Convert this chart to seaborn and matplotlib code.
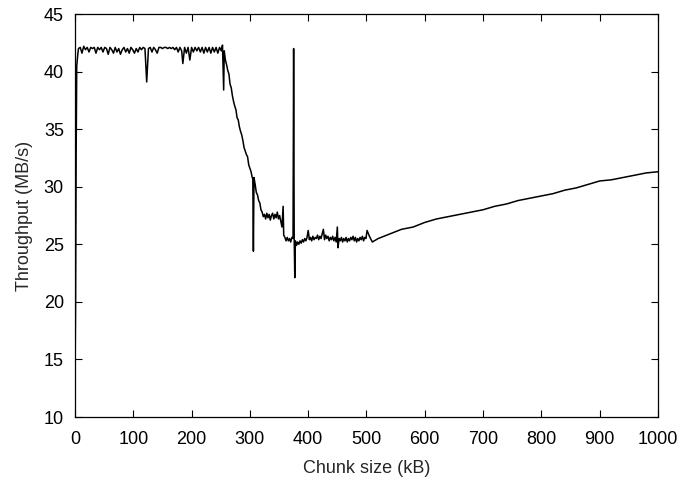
import matplotlib
matplotlib.use("Agg")
import matplotlib.pyplot as plt
import seaborn as sns
import pandas as pd

chunk_kb = [0, 1, 2, 3, 5,
    6, 9, 12, 15, 18, 21, 24, 27, 30, 33, 36, 39, 42, 45, 48, 51, 54, 57, 60, 63, 66, 69, 72, 75, 78, 81, 84, 87,
    90, 93, 96, 99, 102, 105, 108, 111, 114, 117, 120, 123, 126, 129, 132, 135, 138, 141, 144, 147, 150, 153,
    156, 159, 162, 165, 168, 171, 174, 177, 180, 183, 185, 188, 191, 194, 197, 200, 203, 206, 209, 212, 215,
    218, 221, 224, 227, 230, 233, 236, 239, 242, 245, 248, 251,
    253, 255, 256, 258, 260, 262, 264, 266, 268, 270, 272, 274, 276, 278, 280, 282, 284, 286, 288, 290, 292,
    294, 296, 298, 300, 302, 304, 305, 306, 307, 309, 311, 313, 315, 317, 319, 321, 323, 325, 327, 329, 331,
    333, 335, 337, 339, 341, 343, 345, 347, 349, 351, 353, 355, 357, 358, 360, 362, 364, 366, 368, 370, 372,
    374, 375, 376, 377, 378, 380, 382, 384, 386, 388, 390, 392, 394, 396, 398, 400, 402, 404, 406, 408, 410,
    412, 414, 416, 418, 420, 422, 424, 426, 428, 430, 432, 434, 436, 438, 440, 442, 444, 446, 448, 450, 451,
    453, 455, 457, 459, 461, 463, 465, 467, 469, 471, 473, 475, 477, 479, 481, 483, 485, 487, 489, 491, 493,
    495, 497, 499, 501, 505, 510,
    520, 530, 540, 550, 560, 570, 580, 590, 600, 620, 640, 660, 680, 700, 720, 740, 760, 780, 800, 820, 840,
    860, 880, 900, 920, 940, 960, 980, 1000]

throughput = [12.8, 20.0, 33.0, 40.5, 41.6,
    42.0, 42.1, 41.6, 42.2, 41.9, 42.1, 41.7, 42.1, 42.0, 42.1, 41.6, 42.1, 41.9, 42.1, 41.7, 42.1, 42.0, 41.5,
    42.1, 41.9, 41.6, 42.1, 41.7, 42.0, 41.5, 41.9, 42.1, 41.7,
    42.0, 41.6, 42.1, 41.9, 41.6, 42.0, 41.7, 42.1, 41.9, 42.1, 42.0, 39.1, 42.0, 42.1, 41.7, 42.1, 41.9, 41.6,
    42.1, 42.1, 42.0, 42.1,
    42.1, 42.0, 42.1, 42.0, 42.1, 41.9, 42.1, 41.7, 42.1, 41.8, 40.7, 42.1, 41.6, 42.1, 41.0, 42.1, 41.7, 42.1,
    41.8, 42.1, 41.7,
    42.1, 41.6, 42.1, 41.7, 42.1, 41.6, 42.1, 41.7, 42.1, 41.6, 42.1, 41.8,
    42.3, 38.4, 41.8, 41.0, 40.6, 40.1, 39.8, 38.9, 38.6, 37.9, 37.4, 37.0, 36.7, 36.0, 35.8, 35.2, 34.8, 34.5,
    34.0, 33.4, 33.1,
    32.8, 32.6, 31.9, 31.6, 31.3, 30.8, 30.7, 24.4, 30.8, 30.2, 29.5, 29.3, 28.8, 28.6, 28.0, 27.8, 27.4, 27.6,
    27.2, 27.7, 27.3,
    27.6, 27.1, 27.5, 27.7, 27.2, 27.6, 27.3, 27.8, 27.2, 27.5, 27.0, 26.5, 28.3, 25.8, 25.6, 25.3, 25.6, 25.3,
    25.5, 25.2, 25.6,
    25.5, 42.0, 25.4, 22.1, 25.3, 24.9, 25.2, 25.0, 25.3, 25.1, 25.4, 25.2, 25.5, 25.3, 25.6, 26.2, 25.4, 25.6,
    25.3, 25.7, 25.4,
    25.6, 25.5, 25.8, 25.4, 25.7, 25.5, 25.9, 26.3, 25.4, 25.8, 25.5, 25.7, 25.3, 25.6, 25.4, 25.7, 25.3, 25.6,
    25.2, 26.5, 24.7,
    25.5, 25.3, 25.6, 25.2, 25.5, 25.3, 25.6, 25.2, 25.5, 25.3, 25.6, 25.4, 25.7, 25.3, 25.6, 25.2, 25.5, 25.3,
    25.6, 25.4, 25.7,
    25.3, 25.6, 25.5, 26.2, 25.7, 25.2,
    25.5, 25.7, 25.9, 26.1, 26.3, 26.4, 26.5, 26.7, 26.9, 27.2, 27.4, 27.6, 27.8, 28.0, 28.3, 28.5, 28.8, 29.0,
    29.2, 29.4, 29.7,
    29.9, 30.2, 30.5, 30.6, 30.8, 31.0, 31.2, 31.3]

x_ticks = [0, 100, 200, 300, 400, 500, 600, 700, 800, 900, 1000]
y_ticks = [10, 15, 20, 25, 30, 35, 40, 45]

df = pd.DataFrame({"chunk": chunk_kb, "tp": throughput})

sns.set_theme(style="ticks")
plt.rcParams["font.family"] = ["Liberation Sans", "DejaVu Sans"]

fig = plt.figure(figsize=(6.83, 4.83), dpi=100)
ax = fig.add_axes([0.1098, 0.1366, 0.8536, 0.8344])
sns.lineplot(data=df, x="chunk", y="tp", ax=ax, color="black", linewidth=1.1,
             estimator=None, sort=False)
ax.set_xlim(0, 1000)
ax.set_ylim(10, 45)
ax.set_xticks(x_ticks)
ax.set_yticks(y_ticks)
ax.tick_params(direction="in", top=True, right=True, length=5, width=0.8,
               labelsize=13, colors="black")
ax.tick_params(axis="x", pad=10)
ax.tick_params(axis="y", pad=8)
for s in ax.spines.values():
    s.set_visible(True)
    s.set_linewidth(0.9)
    s.set_color("black")
ax.set_xlabel("Chunk size (kB)", fontsize=13, labelpad=9)
ax.set_ylabel("Throughput (MB/s)", fontsize=13, labelpad=8)
fig.savefig("out.png", dpi=100)
